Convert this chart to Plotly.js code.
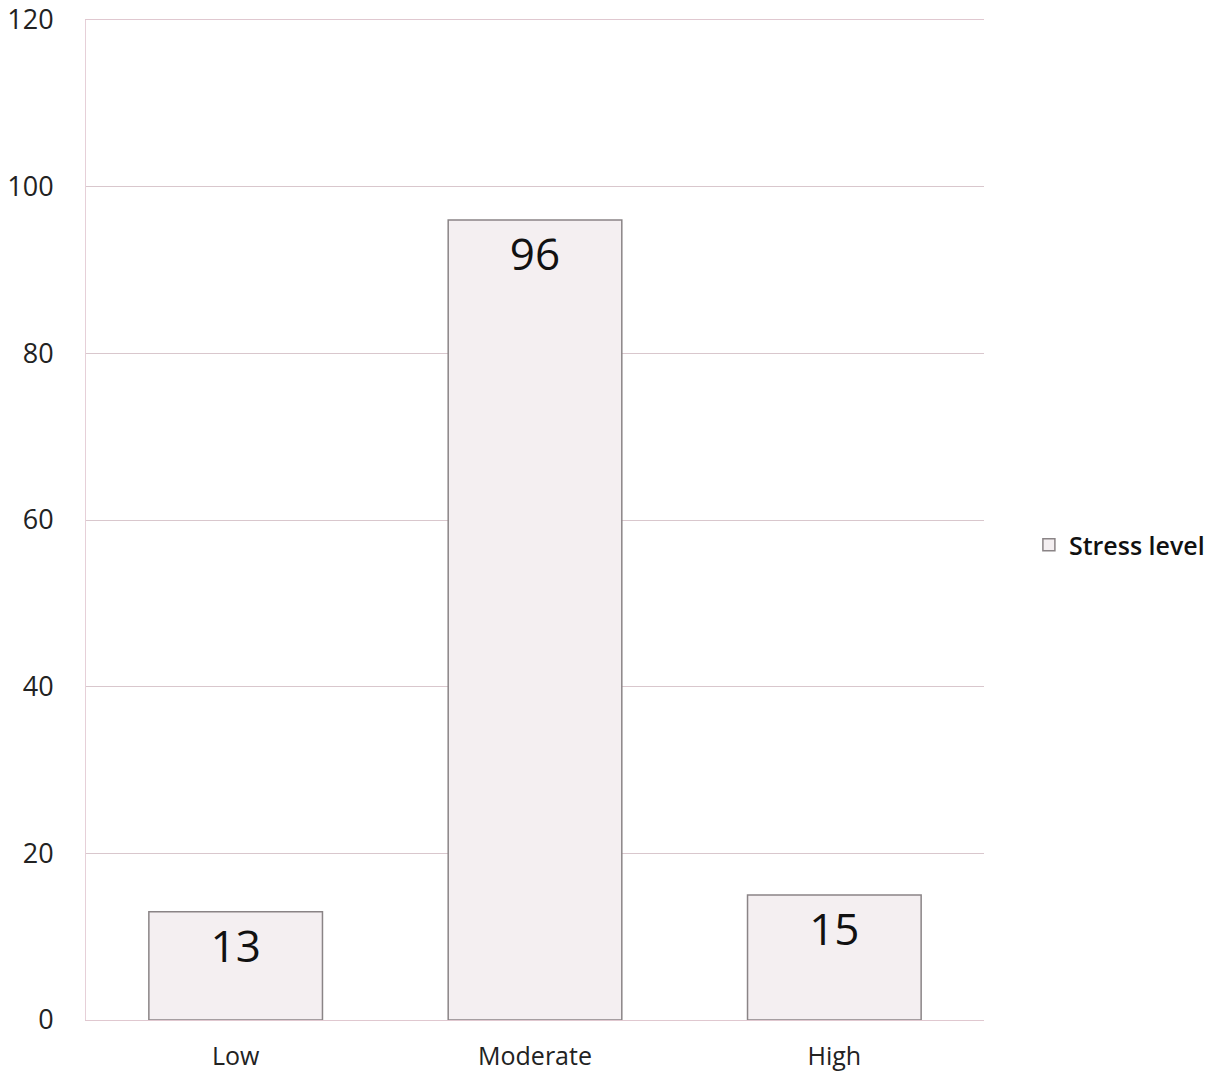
<!DOCTYPE html>
<html>
<head>
<meta charset="utf-8">
<script src="https://cdn.plot.ly/plotly-3.0.1.min.js"></script>
<style>html,body{margin:0;padding:0;background:#fff;}#chart{width:1222px;height:1083px;}</style>
</head>
<body>
<div id="chart"></div>
<script>
const categories = ["Low", "Moderate", "High"];
const stressValues = [13, 96, 15];
const valueLabels = ["13", "96", "15"];
const seriesName = "Stress level";
const yTicks = [0, 20, 40, 60, 80, 100, 120];

const trace = {
  type: "bar",
  x: categories,
  y: stressValues,
  name: seriesName,
  text: valueLabels,
  textposition: "inside",
  insidetextanchor: "end",
  textangle: 0,
  textfont: {family: "Open Sans, sans-serif", size: 44, color: "#111"},
  marker: {color: "rgba(244,239,241,1)", line: {color: "#8a8486", width: 1.5}},
  width: 0.58,
  showlegend: true,
  hoverinfo: "none"
};

const layout = {
  width: 1222,
  height: 1083,
  margin: {l: 86, r: 232, t: 20, b: 63},
  paper_bgcolor: "#fff",
  plot_bgcolor: "#fff",
  font: {family: "Open Sans, sans-serif", color: "#222"},
  showlegend: true,
  legend: {
    x: 1.05, y: 0.475, xanchor: "left", yanchor: "middle",
    font: {size: 25, color: "#111", weight: 600},
    bgcolor: "rgba(0,0,0,0)"
  },
  xaxis: {
    type: "category",
    showgrid: false,
    showline: true,
    mirror: true,
    linecolor: "#e0c8d0",
    linewidth: 1,
    ticks: "",
    tickfont: {size: 25, color: "#222"},
    ticklabelstandoff: 14
  },
  yaxis: {
    range: [0, 120],
    tickvals: yTicks,
    ticktext: yTicks.map(String),
    showgrid: true,
    gridcolor: "#d9c7cd",
    gridwidth: 1,
    zeroline: false,
    showline: true,
    linecolor: "#e6d0d8",
    linewidth: 1,
    ticks: "",
    tickfont: {size: 27, color: "#222"},
    ticklabelstandoff: 26
  },
  bargap: 0.42
};

Plotly.newPlot("chart", [trace], layout, {displayModeBar: false, staticPlot: true});
</script>
</body>
</html>
